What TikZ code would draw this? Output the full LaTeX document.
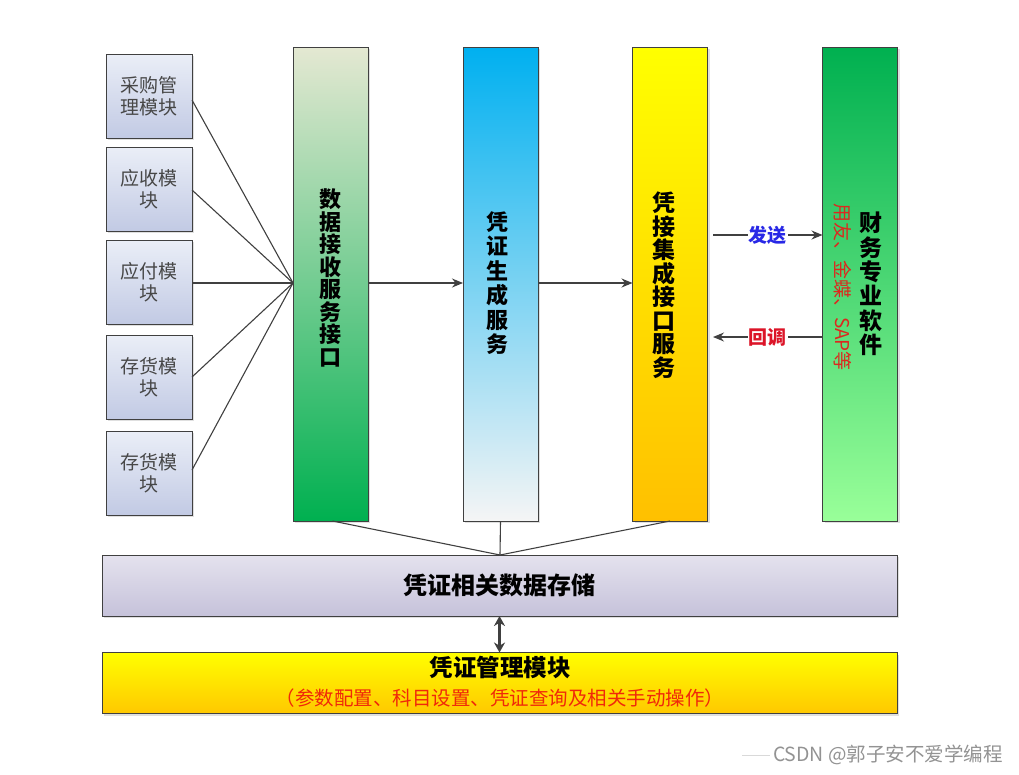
\documentclass[tikz,border=0pt]{standalone}
\usepackage{fontspec}
\setmainfont{Noto Sans CJK SC}
\usetikzlibrary{shadows,arrows.meta}
\definecolor{lineg}{HTML}{404040}
\tikzset{
  every node/.style={inner sep=0pt, outer sep=0pt},
  modbox/.style={draw=lineg, line width=1pt, minimum width=86pt, minimum height=84pt,
    top color={rgb,255:red,234;green,238;blue,247}, bottom color={rgb,255:red,194;green,202;blue,228},
    drop shadow={opacity=0.25, shadow xshift=2pt, shadow yshift=-2pt},
    align=center, font=\fontsize{19}{22}\selectfont, text=black!72},
  colbox/.style={draw=lineg, line width=1pt, minimum width=75pt, minimum height=474pt,
    drop shadow={opacity=0.25, shadow xshift=2pt, shadow yshift=-2pt},
    align=center},
  widebox/.style={draw=lineg, line width=1pt, minimum width=795pt, minimum height=61pt,
    drop shadow={opacity=0.25, shadow xshift=2pt, shadow yshift=-2pt}, align=center},
  conn/.style={draw=lineg, line width=1.1pt},
  arr/.style={conn, -{Stealth[length=11pt, width=9pt]}},
  darr/.style={conn, line width=2.4pt, {Stealth[length=10pt, width=11pt]}-{Stealth[length=10pt, width=11pt]}},
}
\begin{document}
\begin{tikzpicture}[x=1pt, y=-1pt]
\useasboundingbox (0,0) rectangle (1019,774);
\fill[white] (0,0) rectangle (1019,774);

% left modules
\node[modbox] (m1) at (149,96) {采购管\\理模块};
\node[modbox] (m2) at (149,189) {应收模\\块};
\node[modbox] (m3) at (149,282) {应付模\\块};
\node[modbox] (m4) at (149,377) {存货模\\块};
\node[modbox] (m5) at (149,473) {存货模\\块};

% columns
\node[colbox, top color={rgb,255:red,228;green,232;blue,210}, bottom color={rgb,255:red,0;green,176;blue,80}] (c1) at (330.5,284) {};
\node[colbox, top color={rgb,255:red,0;green,176;blue,240}, bottom color=gray!8] (c2) at (500.5,284) {};
\node[colbox, top color=yellow, bottom color={rgb,255:red,255;green,192;blue,0}] (c3) at (670,284) {};
\node[colbox, top color={rgb,255:red,0;green,176;blue,80}, bottom color={rgb,255:red,153;green,255;blue,153}] (c4) at (860,284) {};

\node[font=\bfseries\fontsize{22}{22.5}\selectfont, align=center] (t1) at (330,278) {数\\据\\接\\收\\服\\务\\接\\口};
\node[font=\bfseries\fontsize{22}{24.5}\selectfont, align=center] (t2) at (497,283) {凭\\证\\生\\成\\服\\务};
\node[font=\bfseries\fontsize{23}{23.5}\selectfont, align=center] (t3) at (664,285) {凭\\接\\集\\成\\接\\口\\服\\务};
\node[font=\bfseries\fontsize{23}{24.4}\selectfont, align=center] (t4) at (871,284) {财\\务\\专\\业\\软\\件};
\node[rotate=-90, font=\fontsize{19}{20}\selectfont, text={rgb,255:red,220;green,40;blue,30}] (t5) at (843,287) {用友、金蝶、SAP等};

% fan-in connectors
\coordinate (hub) at (c1.west |- 0,283);
\draw[conn] (m1.east |- 0,100) -- (hub);
\draw[conn] (m2.east |- 0,190) -- (hub);
\draw[conn] (m3.east |- 0,283) -- (hub);
\draw[conn] (m4.east |- 0,377) -- (hub);
\draw[conn] (m5.east |- 0,470) -- (hub);

% column arrows
\draw[arr] (c1.east |- 0,283) -- (c2.west |- 0,283);
\draw[arr] (c2.east |- 0,283) -- (c3.west |- 0,283);

\coordinate (s1) at (713,235);
\coordinate (s2) at (c4.west |- 0,235);
\draw[arr] (s1) -- (s2) node[midway, fill=white, inner sep=1pt, font=\bfseries\fontsize{19}{20}\selectfont, text={rgb,255:red,40;green,40;blue,230}] (fs) {发送};
\coordinate (r1) at (c4.west |- 0,337);
\coordinate (r2) at (713,337);
\draw[arr] (r1) -- (r2) node[midway, fill=white, inner sep=1pt, font=\bfseries\fontsize{19}{20}\selectfont, text={rgb,255:red,220;green,20;blue,40}] (fr) {回调};

% storage
\node[widebox, top color={rgb,255:red,228;green,226;blue,238}, bottom color={rgb,255:red,198;green,194;blue,218}, font=\bfseries\fontsize{24}{26}\selectfont] (st) at (499.5,585.5) {凭证相关数据存储};
\coordinate (sj) at (500,555);
\draw[conn] (c1.south) ++(2,0) -- (sj);
\draw[conn] (c2.south) -- (sj);
\draw[conn] (c3.south) -- (sj);

% management
\node[widebox, top color=yellow, bottom color={rgb,255:red,255;green,200;blue,0}] (mg) at (499.5,683) {};
\node[font=\bfseries\fontsize{23.5}{26}\selectfont] (mg1) at (500,667) {凭证管理模块};
\node[font=\fontsize{19.5}{21}\selectfont, text={rgb,255:red,240;green,40;blue,10}] (mg2) at (500,698) {（参数配置、科目设置、凭证查询及相关手动操作）};
\draw[darr] (st.south) -- (mg.north);

% watermark
\draw[gray!30, line width=0.6pt] (742,755) -- (770,755);
\node[anchor=west, font=\fontsize{19.5}{22}\selectfont, text=gray!85] (wm) at (773,755) {CSDN @郭子安不爱学编程};
\end{tikzpicture}
\end{document}
